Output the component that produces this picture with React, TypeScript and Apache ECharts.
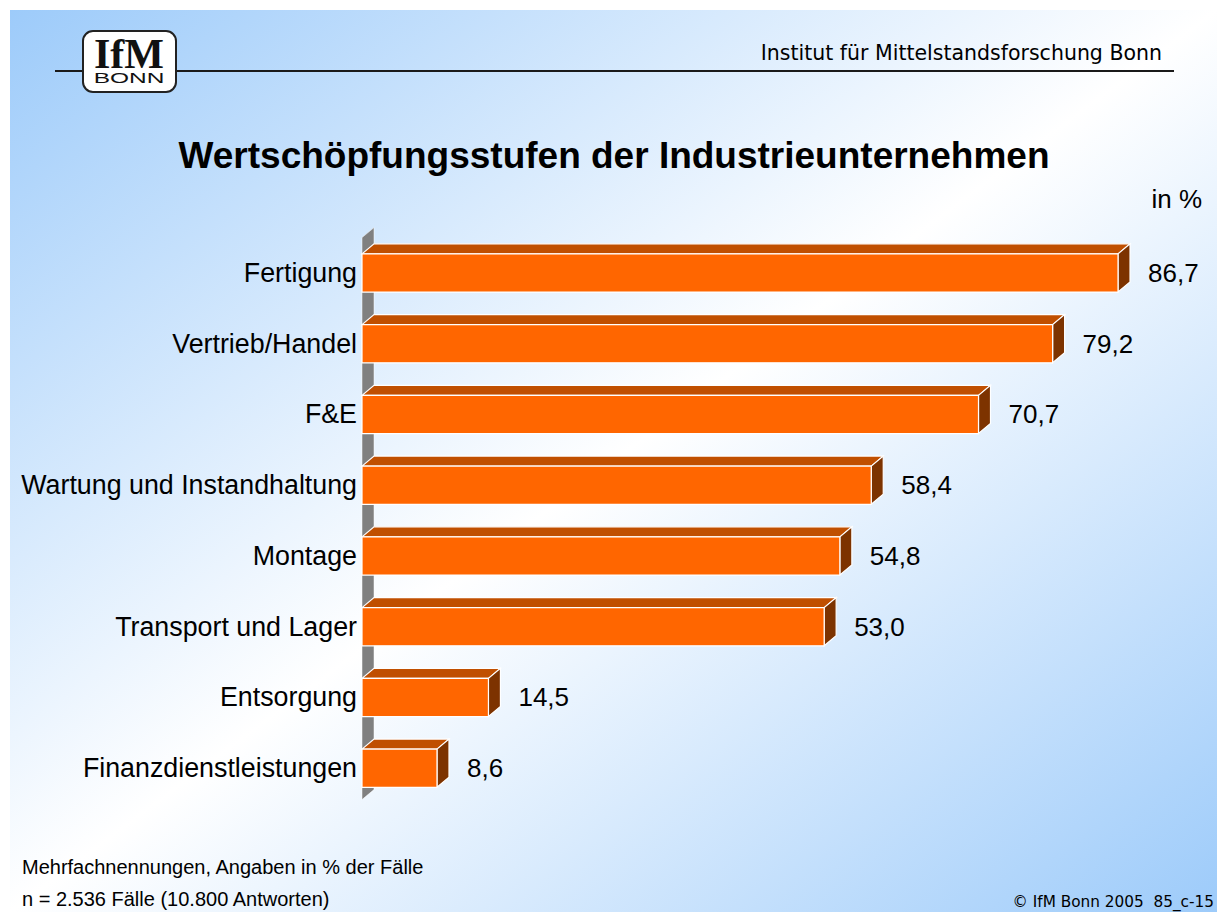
import React, { useEffect, useRef } from "react";
import * as echarts from "echarts";

const categories = [
  "Fertigung",
  "Vertrieb/Handel",
  "F&E",
  "Wartung und Instandhaltung",
  "Montage",
  "Transport und Lager",
  "Entsorgung",
  "Finanzdienstleistungen",
];
const values = [86.7, 79.2, 70.7, 58.4, 54.8, 53.0, 14.5, 8.6];

const titleText = "Wertschöpfungsstufen der Industrieunternehmen";
const unitText = "in %";
const headerText = "Institut für Mittelstandsforschung Bonn";
const noteLines = ["Mehrfachnennungen, Angaben in % der Fälle", "n = 2.536 Fälle (10.800 Antworten)"];
const copyrightText = "© IfM Bonn 2005  85_c-15";

const fmt = (v: number) => v.toFixed(1).replace(".", ",");

const DX = 12;
const DY = 10;

export default function App() {
  const ref = useRef<HTMLDivElement>(null);
  useEffect(() => {
    if (!ref.current) return;
    const chart = echarts.init(ref.current, null, { renderer: "svg" });
    const sans = "'Liberation Sans', Arial, sans-serif";
    const tahoma = "'DejaVu Sans', Verdana, sans-serif";
    const option: any = {
      animation: false,
      grid: { left: 362, width: 784.8, top: 237.6, height: 566 },
      xAxis: { type: "value", min: 0, max: 90, show: false },
      yAxis: {
        type: "category",
        data: categories,
        inverse: true,
        axisLine: { show: false },
        axisTick: { show: false },
        splitLine: { show: false },
        axisLabel: { fontSize: 26.8, color: "#000", fontFamily: sans, margin: 5 },
      },
      graphic: [
        {
          type: "rect",
          z: -10,
          shape: { x: 10, y: 10, width: 1207, height: 902 },
          style: {
            fill: new echarts.graphic.LinearGradient(0, 0, 1, 1, [
              { offset: 0, color: "#9DCBFA" },
              { offset: 0.5, color: "#FFFFFF" },
              { offset: 1, color: "#9DCBFA" },
            ]),
          },
        },
        {
          type: "line",
          shape: { x1: 55, y1: 71, x2: 1174, y2: 71 },
          style: { stroke: "#1a1a1a", lineWidth: 2 },
        },
        {
          type: "rect",
          shape: { x: 83, y: 31, width: 93, height: 61, r: 10 },
          style: { fill: "#fff", stroke: "#222", lineWidth: 2 },
        },
        {
          type: "text",
          x: 129,
          y: 54,
          style: {
            text: "IfM",
            font: "bold 42px 'Liberation Serif', 'DejaVu Serif', serif",
            fill: "#111",
            align: "center",
            verticalAlign: "middle",
          },
        },
        {
          type: "text",
          x: 129,
          y: 78,
          scaleX: 1.75,
          style: {
            text: "BONN",
            font: "14px " + sans,
            fill: "#111",
            align: "center",
            verticalAlign: "middle",
          },
        },
        {
          type: "text",
          x: 1162,
          y: 53,
          style: {
            text: headerText,
            font: "20.5px " + tahoma,
            fill: "#000",
            align: "right",
            verticalAlign: "middle",
          },
        },
        {
          type: "text",
          x: 614,
          y: 155,
          style: {
            text: titleText,
            font: "bold 37px " + sans,
            fill: "#000",
            align: "center",
            verticalAlign: "middle",
          },
        },
        {
          type: "text",
          x: 1202,
          y: 199,
          style: {
            text: unitText,
            font: "26px " + sans,
            fill: "#000",
            align: "right",
            verticalAlign: "middle",
          },
        },
        {
          type: "text",
          x: 22,
          y: 867,
          style: { text: noteLines[0], font: "20px " + sans, fill: "#000", align: "left", verticalAlign: "middle" },
        },
        {
          type: "text",
          x: 22,
          y: 899,
          style: { text: noteLines[1], font: "20px " + sans, fill: "#000", align: "left", verticalAlign: "middle" },
        },
        {
          type: "text",
          x: 1214,
          y: 902,
          style: { text: copyrightText, font: "15.3px " + tahoma, fill: "#000", align: "right", verticalAlign: "middle" },
        },
      ],
      series: [
        {
          type: "custom",
          z: 1,
          data: [[0, 0]],
          renderItem: (params: any) => {
            const cs = params.coordSys;
            const x = cs.x;
            const top = cs.y;
            const bot = cs.y + cs.height - 4;
            return {
              type: "polygon",
              shape: {
                points: [
                  [x, top],
                  [x + DX, top - DY],
                  [x + DX, bot - DY],
                  [x, bot],
                ],
              },
              style: { fill: "#808080", stroke: "#fff", lineWidth: 0.5 },
            };
          },
        },
        {
          type: "custom",
          z: 5,
          encode: { x: 0, y: 1 },
          data: values.map((v, i) => [v, i]),
          renderItem: (params: any, api: any) => {
            const v = api.value(0);
            const i = api.value(1);
            const p0 = api.coord([0, i]);
            const p1 = api.coord([v, i]);
            const band = api.size([0, 1])[1];
            const h = band * 0.54;
            const x0 = p0[0];
            const x1 = p1[0];
            const yT = p0[1] - h / 2;
            const yB = p0[1] + h / 2;
            return {
              type: "group",
              children: [
                {
                  type: "polygon",
                  shape: { points: [[x0, yT], [x0 + DX, yT - DY], [x1 + DX, yT - DY], [x1, yT]] },
                  style: { fill: "#C04F00", stroke: "#fff", lineWidth: 1.2 },
                },
                {
                  type: "polygon",
                  shape: { points: [[x1, yT], [x1 + DX, yT - DY], [x1 + DX, yB - DY], [x1, yB]] },
                  style: { fill: "#7D3300", stroke: "#fff", lineWidth: 1.2 },
                },
                {
                  type: "rect",
                  shape: { x: x0, y: yT, width: x1 - x0, height: h },
                  style: { fill: "#FF6600", stroke: "#fff", lineWidth: 1.2 },
                },
                {
                  type: "text",
                  x: x1 + DX + 18,
                  y: p0[1],
                  style: {
                    text: fmt(v),
                    font: "26px " + sans,
                    fill: "#000",
                    align: "left",
                    verticalAlign: "middle",
                  },
                },
              ],
            };
          },
        },
      ],
    };
    chart.setOption(option);
    return () => chart.dispose();
  }, []);
  return (
    <div
      ref={ref}
      style={{ position: "fixed", left: 0, top: 0, width: 1217, height: 912, background: "#fff" }}
    />
  );
}
